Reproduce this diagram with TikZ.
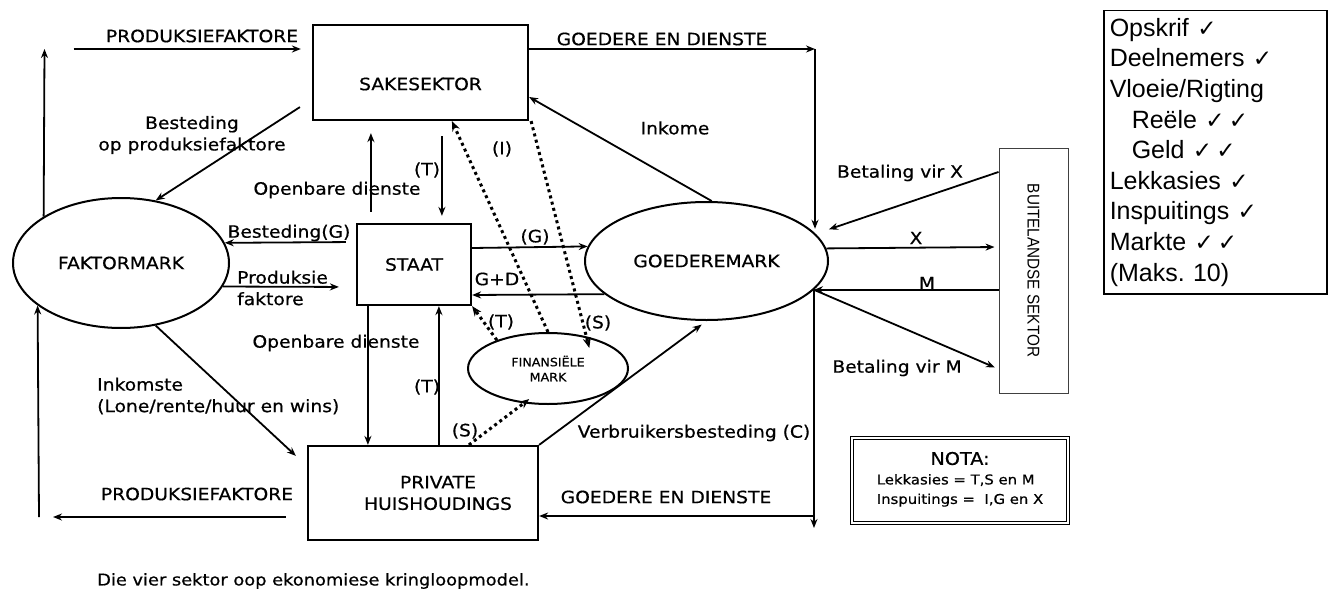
\documentclass[tikz,border=0pt]{standalone}
\usepackage{fontspec}
\setmainfont{DejaVu Sans}[FakeStretch=1.1, FakeBold=0.6]
\newfontfamily\arialfont{Liberation Sans}
\newfontfamily\arialnarrow{Liberation Sans}[FakeStretch=0.9]
\newfontfamily\chkfont{DejaVu Sans}
\usetikzlibrary{arrows.meta,shapes.geometric}
\newcommand{\chk}{{\chkfont\fontsize{23}{30.6}\selectfont ✓}}

\begin{document}
\begin{tikzpicture}[x=1pt, y=-1pt,
        sektor/.style={draw, line width=2.2pt, inner sep=0pt},
        markt/.style={draw, ellipse, line width=2pt, inner sep=0pt},
        flow/.style={line width=1.8pt, -{Stealth[length=9pt, width=7pt]}},
        geld/.style={line width=3pt, dash pattern=on 3pt off 3.4pt, -{Stealth[length=10pt, width=8pt]}},
        txt/.style={font=\fontsize{17}{21.5}\selectfont, inner sep=0pt}]
        \useasboundingbox (0,0) rectangle (1329,591);
        % sektore en markte
        \node[sektor, minimum width=215pt, minimum height=95pt, label={[txt, yshift=-11.5pt]center:SAKESEKTOR}] (SS) at (420.5,72.5) {};
        \node[sektor, txt, minimum width=114pt, minimum height=81pt] (ST) at (414,264.5) {STAAT};
        \node[sektor, minimum width=230pt, minimum height=94pt, label={[txt, align=center, xshift=15pt]center:{PRIVATE\\HUISHOUDINGS}}] (PH) at (423,493) {};
        \node[markt, txt, minimum width=216pt, minimum height=130pt] (FM) at (121,263) {FAKTORMARK};
        \node[markt, txt, minimum width=243pt, minimum height=118pt] (GM) at (706.5,261) {GOEDEREMARK};
        \node[markt, minimum width=160pt, minimum height=71pt, align=center, font=\fontsize{11.5}{15}\selectfont] (FN) at (548,368.5) {FINANSIËLE\\MARK};
        \node[draw=black!75, line width=1pt, minimum width=69pt, minimum height=245pt, inner sep=0pt, font=\arialnarrow\fontsize{17}{17}\selectfont] (BS) at (1033.5,270.5) {\rotatebox{-90}{BUITELANDSE SEKTOR}};
        % hoeke
        \coordinate (TL) at (44.5,49);
        \coordinate (TR) at (815,49);
        \coordinate (GR) at (GM.-15);
        \coordinate (BR) at (GR |- 0,528);
        \coordinate (GB) at (GR |- 0,516);
        \coordinate (BL) at (39,517);
        % buitenste kring
        \draw[flow] (FM.149) -- (TL);
        \draw[flow, shorten <=29pt, shorten >=11pt] (TL) -- (TL -| SS.west);
        \draw[flow] (TL -| SS.east) -- (TR);
        \draw[flow, shorten >=5pt] (TR) -- (TR |- GM.14);
        \draw[flow, shorten <=21pt, shorten >=14pt] (BL -| PH.west) -- (BL);
        \draw[flow] (BL) -- (FM.207.3);
        \draw[flow] (GR) -- (BR);
        \draw[flow] (GB) -- (GB -| PH.east);
        % binne
        \draw[flow] ([xshift=-12pt, yshift=14pt]SS.south west) -- (FM.61);
        \draw[flow, shorten <=11pt, shorten >=12pt] ([xshift=15pt]ST.north west) -- ([xshift=59pt]SS.south west);
        \draw[flow, shorten <=15pt, shorten >=7pt] ([xshift=130pt]SS.south west) -- ([xshift=86pt]ST.north west);
        \draw[flow] (GM.85) -- ([yshift=-24.5pt]SS.east);
        \draw[flow, shorten <=10pt] ([yshift=22.5pt]ST.west) -- (FM.11.6);
        \draw[flow, shorten >=17pt] (FM.-13.5) -- ([yshift=-22.5pt]ST.west);
        \draw[flow] ([yshift=16.5pt]ST.east) -- (GM.173.7);
        \draw[flow] (GM.198.9) -- ([yshift=-30.5pt]ST.east);
        \draw[flow] ([xshift=12pt]ST.south west) -- ([xshift=61pt]PH.north west);
        \draw[flow] ([xshift=132pt]PH.north west) -- ([xshift=83pt]ST.south west);
        \draw[flow] (FM.-61.1) -- ([xshift=-11pt, yshift=-11pt]PH.north west);
        \draw[flow, shorten >=6pt] (PH.north east) -- (GM.south);
        % buitelandse sektor
        \draw[flow, shorten >=4pt] (GM.6.8) -- ([yshift=23.5pt]BS.west);
        \draw[flow] (BS.west |- GR) -- (GR);
        \draw[flow, shorten >=14pt] ([yshift=98.5pt]BS.west) -- (GM.14.6);
        \draw[flow, shorten >=4pt] (GR) -- ([yshift=-98.5pt]BS.west);
        % finansiele mark
        \draw[geld] (FN.north) -- ([xshift=140pt]SS.south west);
        \draw[geld, shorten >=-12pt] ([xshift=2pt]SS.south east) -- (FN.40.4);
        \draw[geld] (FN.151.8) -- (ST.south east);
        \draw[geld, shorten >=-7pt] ([xshift=162pt]PH.north west) -- (FN.235.9);
        % byskrifte
        \node[txt] (PF1) at (202,36) {PRODUKSIEFAKTORE};
        \node[txt] (GD1) at (662,39) {GOEDERE EN DIENSTE};
        \node[txt, align=center] (BOP) at (192,135) {Besteding\\op produksiefaktore};
        \node[txt] (T1) at (427,170) {(T)};
        \node[txt] (OD1) at (337,190) {Openbare dienste};
        \node[txt] (I) at (502,149) {(I)};
        \node[txt] (INK) at (675,128) {Inkome};
        \node[txt] (BX) at (900,173) {Betaling vir X};
        \node[txt] (BG) at (289,233) {Besteding(G)};
        \node[txt, anchor=west, align=left] (PFK) at (237,288) {Produksie\\faktore};
        \node[txt] (G) at (535,237) {(G)};
        \node[txt] (GD) at (497,279) {G+D};
        \node[txt] (X) at (916,238) {X};
        \node[txt] (M) at (927,283) {M};
        \node[txt] (BM) at (897,368) {Betaling vir M};
        \node[txt] (OD2) at (336,343) {Openbare dienste};
        \node[txt] (T2) at (427,387) {(T)};
        \node[txt] (T3) at (501,322) {(T)};
        \node[txt] (S1) at (598,323) {(S)};
        \node[txt] (S2) at (465,431) {(S)};
        \node[txt, anchor=west, align=left] (INS) at (97,396) {Inkomste\\(Lone/rente/huur en wins)};
        \node[txt] (VB) at (694,433) {Verbruikersbesteding (C)};
        \node[txt] (PF2) at (197,494) {PRODUKSIEFAKTORE};
        \node[txt] (GD2) at (666,497) {GOEDERE EN DIENSTE};
        \node[txt, anchor=west, font=\fontsize{16.2}{20}\selectfont] (CAP) at (97,581) {Die vier sektor oop ekonomiese kringloopmodel.};
        % nota
        \node[draw, double, double distance=2pt, line width=0.9pt, minimum width=216pt, minimum height=85pt, inner sep=0pt, font=\fontsize{13.5}{19.5}\selectfont] (NB) at (960,480.5) {\begin{tabular}{@{}l@{}}
            \multicolumn{1}{@{}c@{}}{\fontsize{17.5}{20}\selectfont NOTA:}\\
            Lekkasies = T,S en M\\
            Inspuitings =\ \ I,G en X
        \end{tabular}};
        % puntelys
        \node[draw, line width=1.5pt, anchor=north west, minimum height=283pt, text width=211pt, inner xsep=6pt, inner ysep=0pt, align=left, font=\arialfont\fontsize{25}{30.6}\selectfont] (CL) at (1103,10) {Opskrif \chk\\
            Deelnemers \chk\\
            Vloeie/Rigting\\
            \hspace*{22pt}Reële \chk\,\chk\\
            \hspace*{22pt}Geld \chk\,\chk\\
            Lekkasies \chk\\
            Inspuitings \chk\\
            Markte \chk\,\chk\\
            (Maks.\ 10)};
    \end{tikzpicture}
\end{document}
